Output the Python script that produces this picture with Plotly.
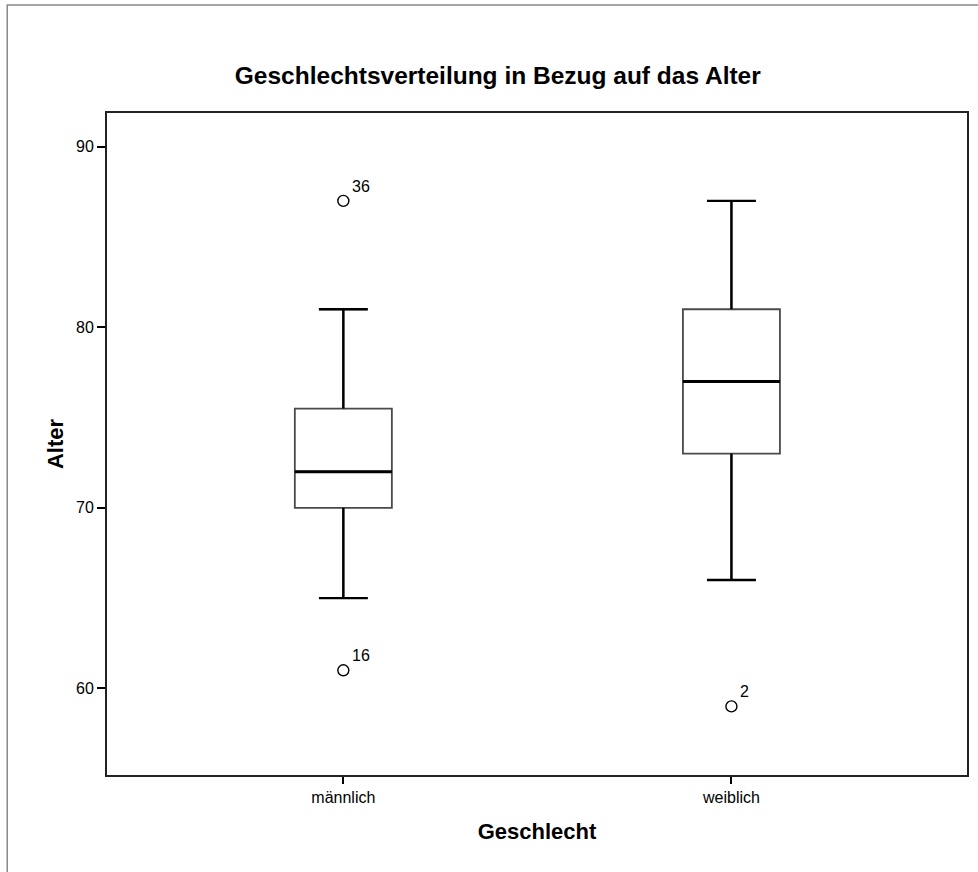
import plotly.graph_objects as go

groups = ["männlich", "weiblich"]
xpos = [0, 1]
q1 = [70, 73]
median = [72, 77]
q3 = [75.5, 81]
lowerfence = [65, 66]
upperfence = [81, 87]
out_x = [0, 0, 1]
out_y = [87, 61, 59]
out_id = ["36", "16", "2"]
yticks = [60, 70, 80, 90]

box_w = 0.25
cap_half = 0.063
FONT = "Liberation Sans, Arial, sans-serif"

fig = go.Figure()
for i in range(len(groups)):
    fig.add_trace(go.Box(
        x=[xpos[i]], q1=[q1[i]], median=[median[i]], q3=[q3[i]],
        lowerfence=[lowerfence[i]], upperfence=[upperfence[i]],
        width=box_w, whiskerwidth=0.5, boxpoints=False,
        fillcolor="white", line=dict(color="#4a4a4a", width=1.8),
        showlegend=False, hoverinfo="skip"))
    xc = xpos[i]
    for lo, hi in [(q3[i], upperfence[i]), (lowerfence[i], q1[i])]:
        fig.add_trace(go.Scatter(x=[xc, xc], y=[lo, hi], mode="lines",
                                 line=dict(color="black", width=2.4),
                                 showlegend=False, hoverinfo="skip"))
    for v in [upperfence[i], lowerfence[i]]:
        fig.add_trace(go.Scatter(x=[xc - cap_half, xc + cap_half], y=[v, v], mode="lines",
                                 line=dict(color="black", width=2.4),
                                 showlegend=False, hoverinfo="skip"))
    fig.add_trace(go.Scatter(x=[xc - box_w / 2, xc + box_w / 2], y=[median[i], median[i]],
                             mode="lines", line=dict(color="black", width=3),
                             showlegend=False, hoverinfo="skip"))

fig.add_trace(go.Scatter(x=out_x, y=out_y, mode="markers",
                         marker=dict(symbol="circle-open", size=11, color="black",
                                     line=dict(width=1.4, color="black")),
                         showlegend=False, hoverinfo="skip"))
for x, y, t in zip(out_x, out_y, out_id):
    fig.add_annotation(x=x, y=y, text=t, showarrow=False, xanchor="left", yanchor="bottom",
                       xshift=7, yshift=4, font=dict(family=FONT, size=16, color="black"))

fig.add_shape(type="rect", xref="paper", yref="paper", x0=-0.116, x1=1.05, y0=-0.2, y1=1.163,
              line=dict(color="#888888", width=1.5), layer="below")

fig.update_layout(
    width=978, height=872,
    margin=dict(l=107, r=9, t=113, b=97),
    paper_bgcolor="white", plot_bgcolor="white",
    title=dict(text="<b>Geschlechtsverteilung in Bezug auf das Alter</b>",
               x=0.509, xanchor="center", y=1 - 75 / 872, yanchor="middle", yref="container",
               font=dict(family=FONT, size=24.5, color="black")),
    font=dict(family=FONT, color="black"),
    xaxis=dict(range=[-0.609, 1.607], tickvals=xpos, ticktext=groups,
               showline=True, linecolor="#222222", linewidth=2, mirror=True,
               ticks="outside", ticklen=7, tickwidth=1.5, tickcolor="black",
               showgrid=False, zeroline=False,
               tickfont=dict(family=FONT, size=16, color="black"),
               title=dict(text="<b>Geschlecht</b>", standoff=18,
                          font=dict(family=FONT, size=22, color="black"))),
    yaxis=dict(range=[55.2, 91.87], tickvals=yticks,
               showline=True, linecolor="#222222", linewidth=2, mirror=True,
               ticks="outside", ticklen=8, tickwidth=1.5, tickcolor="black",
               showgrid=False, zeroline=False,
               tickfont=dict(family=FONT, size=16, color="black"),
               title=dict(text="<b>Alter</b>", standoff=6,
                          font=dict(family=FONT, size=22, color="black"))),
)

fig.write_html("out.html")
